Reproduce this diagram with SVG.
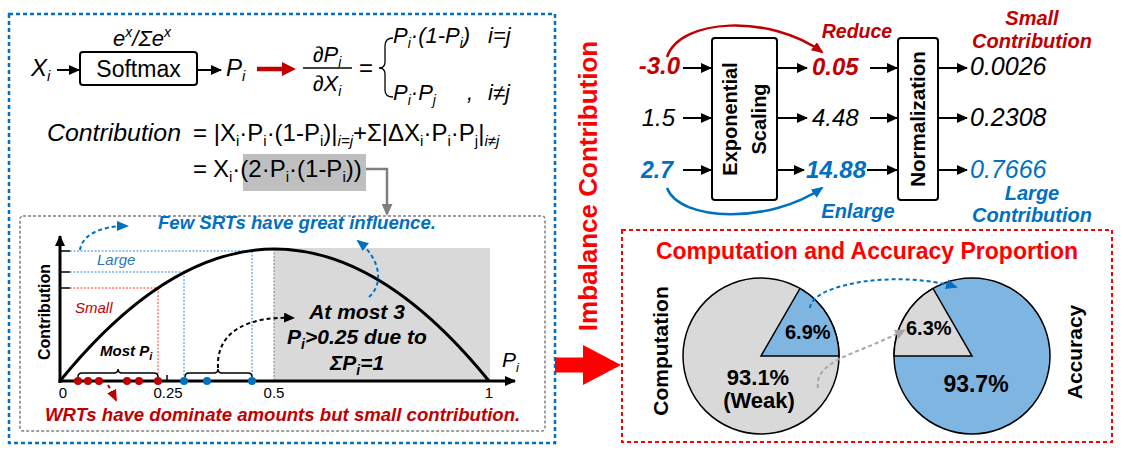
<svg xmlns="http://www.w3.org/2000/svg" width="1143" height="453" viewBox="0 0 1143 453">
<style>
text{font-family:"Liberation Sans",Arial,sans-serif}
.i{font-style:italic}
.b{font-weight:bold}
.bi{font-weight:bold;font-style:italic}
.m{text-anchor:middle}
.e{text-anchor:end}
.ln{stroke:#000;stroke-width:2;fill:none}
.dash{fill:none;stroke-width:2;stroke-dasharray:4 3}
</style>
<defs>
<marker id="ab" markerUnits="userSpaceOnUse" markerWidth="11" markerHeight="10" refX="10" refY="5" orient="auto" viewBox="0 0 11 10"><path d="M0,0 L11,5 L0,10 z" fill="#000"/></marker>
<marker id="ag" markerUnits="userSpaceOnUse" markerWidth="12" markerHeight="11" refX="10" refY="5.5" orient="auto" viewBox="0 0 12 11"><path d="M0,0 L12,5.5 L0,11 z" fill="#7f7f7f"/></marker>
<marker id="alg" markerUnits="userSpaceOnUse" markerWidth="11" markerHeight="10" refX="10" refY="5" orient="auto" viewBox="0 0 11 10"><path d="M0,0 L11,5 L0,10 z" fill="#a6a6a6"/></marker>
<marker id="abl" markerUnits="userSpaceOnUse" markerWidth="12" markerHeight="10" refX="10" refY="5" orient="auto" viewBox="0 0 12 10"><path d="M0,0 L12,5 L0,10 z" fill="#0070c0"/></marker>
<marker id="ar" markerUnits="userSpaceOnUse" markerWidth="12" markerHeight="10" refX="10" refY="5" orient="auto" viewBox="0 0 12 10"><path d="M0,0 L12,5 L0,10 z" fill="#c00000"/></marker>
</defs>
<rect width="1143" height="453" fill="#fff"/>

<!-- frames -->
<g id="frames">
<rect x="9" y="14" width="546" height="429" fill="none" stroke="#0070c0" stroke-width="2.5" stroke-dasharray="4 3"/>
<rect x="20" y="216" width="525" height="215" fill="none" stroke="#7f7f7f" stroke-width="1.5" stroke-dasharray="3 2" rx="3"/>
<rect x="622" y="230" width="490" height="212" fill="none" stroke="#ff0000" stroke-width="2" stroke-dasharray="4 3"/>
</g>

<!-- top-left softmax formula -->
<g id="softmax">
<text x="31" y="76" class="i" font-size="24">X<tspan font-size="15" dy="5">i</tspan></text>
<rect x="80" y="52" width="117" height="33" rx="3" fill="#fff" stroke="#000" stroke-width="2"/>
<text x="138.5" y="77" class="m" font-size="23">Softmax</text>
<text x="142" y="46" class="i m" font-size="22">e<tspan font-size="14" dy="-9">x</tspan><tspan dy="9">/Σe</tspan><tspan font-size="14" dy="-9">x</tspan></text>
<text x="226" y="76" class="i" font-size="24">P<tspan font-size="15" dy="5">i</tspan></text>
</g>

<g id="derivative">
<text x="327" y="62" class="i m" font-size="22">∂P<tspan font-size="14" dy="5">i</tspan></text>
<line x1="303" y1="68" x2="352" y2="68" stroke="#000" stroke-width="1.5"/>
<text x="327" y="91" class="i m" font-size="22">∂X<tspan font-size="14" dy="5">i</tspan></text>
<text x="366" y="76" class="m" font-size="24">=</text>
<path d="M393,38 Q385,38 385,46 L385,62 Q385,68 379,68 Q385,68 385,74 L385,90 Q385,97 393,97" fill="none" stroke="#000" stroke-width="1.3"/>
<text x="393" y="43" class="i" font-size="22">P<tspan font-size="14" dy="5">i</tspan><tspan dy="-5">·(1-P</tspan><tspan font-size="14" dy="5">i</tspan><tspan dy="-5">)</tspan></text>
<text x="488" y="43" class="i" font-size="22">i=j</text>
<text x="393" y="100" class="i" font-size="22">P<tspan font-size="14" dy="5">i</tspan><tspan dy="-5">·P</tspan><tspan font-size="14" dy="5">j</tspan></text>
<text x="467" y="100" class="i" font-size="22">,</text>
<text x="488" y="100" class="i" font-size="22">i≠j</text>
</g>

<g id="contribution-eq">
<text x="47" y="141" class="i" font-size="24" textLength="134" lengthAdjust="spacingAndGlyphs">Contribution</text>
<text x="193" y="141" font-size="24">= |X<tspan font-size="15" dy="5">i</tspan><tspan dy="-5">·P</tspan><tspan font-size="15" dy="5">i</tspan><tspan dy="-5">·(1-P</tspan><tspan font-size="15" dy="5">i</tspan><tspan dy="-5">)|</tspan><tspan font-size="15" dy="5" font-style="italic">i=j</tspan><tspan dy="-5">+Σ|ΔX</tspan><tspan font-size="15" dy="5">i</tspan><tspan dy="-5">·P</tspan><tspan font-size="15" dy="5">i</tspan><tspan dy="-5">·P</tspan><tspan font-size="15" dy="5">j</tspan><tspan dy="-5">|</tspan><tspan font-size="15" dy="5" font-style="italic">i≠j</tspan></text>
<rect x="243" y="154" width="123" height="37" fill="#bfbfbf"/>
<text x="193" y="177" font-size="24">=</text>
<text x="213" y="177" font-size="24">X<tspan font-size="15" dy="5">i</tspan><tspan dy="-5">·(2·P</tspan><tspan font-size="15" dy="5">i</tspan><tspan dy="-5">·(1-P</tspan><tspan font-size="15" dy="5">i</tspan><tspan dy="-5">))</tspan></text>
</g>

<!-- chart -->
<g id="chart">
<rect x="274" y="248" width="216" height="133" fill="#d9d9d9"/>
<g stroke-width="1" stroke-dasharray="2 1.5" fill="none">
<path d="M70,251 H252 M70,272 H184 M252,251 V381 M184,272 V381" stroke="#2e8bdc"/>
<path d="M70,288 H158 M158,288 V381" stroke="#ff3030"/>
<path d="M274,249 V381" stroke="#7f7f7f"/>
</g>
<path d="M60,251 H70 M60,272 H70 M60,288 H70" stroke="#000" stroke-width="1.5"/>
<path d="M60,381 Q274.5,117 489,381" fill="none" stroke="#000" stroke-width="3"/>
<line x1="60" y1="383" x2="60" y2="236" stroke="#000" stroke-width="3" marker-end="url(#ab)"/>
<line x1="58.5" y1="381" x2="515" y2="381" stroke="#000" stroke-width="3" marker-end="url(#ab)"/>
<line x1="167" y1="375" x2="167" y2="381" stroke="#000" stroke-width="1.5"/>
<path d="M78,377 Q78,373 82,373 L114,373 Q118,373 118,369 Q118,373 122,373 L154,373 Q158,373 158,377" fill="none" stroke="#000" stroke-width="1.5"/>
<path d="M185,377 Q185,373 189,373 L214,373 Q218,373 218,369 Q218,373 222,373 L248,373 Q252,373 252,377" fill="none" stroke="#000" stroke-width="1.5"/>
<g fill="#c00000"><circle cx="78" cy="381" r="4"/><circle cx="88" cy="381" r="4"/><circle cx="99" cy="381" r="4"/><circle cx="127" cy="381" r="4"/><circle cx="139" cy="381" r="4"/><circle cx="158" cy="381" r="4"/></g>
<g fill="#0070c0"><circle cx="184" cy="381" r="4"/><circle cx="207" cy="381" r="4"/><circle cx="252" cy="381" r="4"/></g>
<text transform="translate(50,312) rotate(-90)" class="b m" font-size="16">Contribution</text>
<text x="97" y="265" class="i" font-size="15" fill="#2e75b6">Large</text>
<text x="75" y="313" class="i" font-size="15" fill="#c00000">Small</text>
<text x="100" y="356" class="bi" font-size="15">Most P<tspan font-size="11" dy="4">i</tspan></text>
<text x="63" y="398" class="m" font-size="15">0</text>
<text x="168" y="398" class="m" font-size="15">0.25</text>
<text x="274" y="398" class="m" font-size="15">0.5</text>
<text x="489" y="398" class="m" font-size="15">1</text>
<text x="502" y="367" class="i" font-size="21">P<tspan font-size="13" dy="5">i</tspan></text>
<text x="158" y="229" class="bi" font-size="18.6" fill="#0070c0">Few SRTs have great influence.</text>
<text x="45" y="421" class="bi" font-size="18.6" fill="#c00000">WRTs have dominate amounts but small contribution.</text>
<text x="357" y="319" class="bi m" font-size="21">At most 3</text>
<text x="357" y="344" class="bi m" font-size="21">P<tspan font-size="14" dy="5">i</tspan><tspan dy="-5">&gt;0.25 due to</tspan></text>
<text x="357" y="370" class="bi m" font-size="21">ΣP<tspan font-size="14" dy="5">i</tspan><tspan dy="-5">=1</tspan></text>
</g>

<!-- middle label and big arrow -->
<g id="imbalance">
<text transform="translate(587,186) rotate(-90)" y="10" class="b m" font-size="26" fill="#ff0000">Imbalance Contribution</text>
<polygon points="555,357.5 583,357.5 583,345 621,365 583,385 583,372.5 555,372.5" fill="#ff0000"/>
</g>

<!-- top-right pipeline -->
<g id="inputs">
<text x="680" y="74" class="bi e" font-size="24" fill="#c00000">-3.0</text>
<text x="675" y="126" class="i e" font-size="24">1.5</text>
<text x="673" y="178" class="bi e" font-size="23" fill="#0070c0">2.7</text>
</g>
<g id="exp-scaling">
<rect x="712" y="38" width="65" height="162" rx="3" fill="#fff" stroke="#000" stroke-width="2"/>
<text transform="translate(745,119) rotate(-90)" class="b m" font-size="20"><tspan x="0" y="-8">Exponential</tspan><tspan x="0" y="21">Scaling</tspan></text>
</g>
<g id="scaled">
<text x="812" y="75" class="bi" font-size="24" fill="#c00000">0.05</text>
<text x="812" y="126" class="i" font-size="24">4.48</text>
<text x="806" y="178" class="bi" font-size="24" fill="#0070c0">14.88</text>
</g>
<g id="normalization">
<rect x="898" y="38" width="40" height="162" rx="3" fill="#fff" stroke="#000" stroke-width="2"/>
<text transform="translate(918,119) rotate(-90)" y="7" class="b m" font-size="20.5">Normalization</text>
</g>
<g id="outputs">
<text x="970" y="75" class="i" font-size="25">0.0026</text>
<text x="970" y="126" class="i" font-size="25">0.2308</text>
<text x="970" y="178" class="i" font-size="25" fill="#0070c0">0.7666</text>
<text x="857" y="38" class="bi m" font-size="19.5" fill="#c00000">Reduce</text>
<text x="1032" y="25" class="bi m" font-size="20" fill="#c00000">Small</text>
<text x="1032" y="48" class="bi m" font-size="20" fill="#c00000">Contribution</text>
<text x="858" y="218" class="bi m" font-size="20" fill="#0070c0">Enlarge</text>
<text x="1032" y="200" class="bi m" font-size="20" fill="#0070c0">Large</text>
<text x="1032" y="222" class="bi m" font-size="20" fill="#0070c0">Contribution</text>
</g>

<!-- pies -->
<g id="proportion">
<text x="867" y="259" class="b m" font-size="23" fill="#ff0000">Computation and Accuracy Proportion</text>
<text transform="translate(668,351) rotate(-90)" class="b m" font-size="21">Computation</text>
<text transform="translate(1082,352) rotate(-90)" class="b m" font-size="21">Accuracy</text>
</g>
<g id="pie-computation">
<circle cx="761" cy="356" r="78" fill="#d9d9d9" stroke="#000" stroke-width="1.5"/>
<path d="M761,356 L839,356 A78,78 0 0,0 800,288.45 Z" fill="#7fb6e1" stroke="#000" stroke-width="1.5"/>
<text x="785" y="339" class="b" font-size="20">6.9%</text>
<text x="758" y="385" class="b m" font-size="22">93.1%</text>
<text x="759" y="408" class="b m" font-size="22">(Weak)</text>
</g>
<g id="pie-accuracy">
<circle cx="972" cy="356" r="78" fill="#7fb6e1" stroke="#000" stroke-width="1.5"/>
<path d="M972,356 L894,356 A78,78 0 0,1 933,288.45 Z" fill="#d9d9d9" stroke="#000" stroke-width="1.5"/>
<text x="906" y="335" class="b" font-size="20">6.3%</text>
<text x="976" y="392" class="b m" font-size="23">93.7%</text>
</g>

<!-- connectors -->
<g id="connectors">
<line x1="57" y1="70" x2="79" y2="70" class="ln" marker-end="url(#ab)"/>
<line x1="197" y1="70" x2="221" y2="70" class="ln" marker-end="url(#ab)"/>
<line x1="257" y1="69" x2="284" y2="69" stroke="#c00000" stroke-width="4.5"/>
<polygon points="282,62 296,69 282,76" fill="#c00000"/>
<path d="M366,169 H387 V214" fill="none" stroke="#7f7f7f" stroke-width="2.5" marker-end="url(#ag)"/>
<path d="M80,250 C82,235 100,226 127,226" class="dash" stroke="#0070c0" marker-end="url(#abl)"/>
<path d="M369,297 C383,285 382,260 358,241" class="dash" stroke="#0070c0" marker-end="url(#abl)"/>
<path d="M218,368 C216,330 250,316 294,318" class="dash" stroke="#000" marker-end="url(#ab)"/>
<path d="M108,385 Q112,392 116,400" class="dash" stroke="#c00000" marker-end="url(#ar)"/>
<line x1="683" y1="68" x2="711" y2="68" class="ln" marker-end="url(#ab)"/>
<line x1="683" y1="118" x2="711" y2="118" class="ln" marker-end="url(#ab)"/>
<line x1="683" y1="170" x2="711" y2="170" class="ln" marker-end="url(#ab)"/>
<line x1="777" y1="68" x2="807" y2="68" class="ln" marker-end="url(#ab)"/>
<line x1="777" y1="118" x2="807" y2="118" class="ln" marker-end="url(#ab)"/>
<line x1="777" y1="170" x2="804" y2="170" class="ln" marker-end="url(#ab)"/>
<line x1="870" y1="68" x2="897" y2="68" class="ln" marker-end="url(#ab)"/>
<line x1="870" y1="118" x2="897" y2="118" class="ln" marker-end="url(#ab)"/>
<line x1="867" y1="170" x2="897" y2="170" class="ln" marker-end="url(#ab)"/>
<line x1="938" y1="68" x2="967" y2="68" class="ln" marker-end="url(#ab)"/>
<line x1="938" y1="118" x2="967" y2="118" class="ln" marker-end="url(#ab)"/>
<line x1="938" y1="170" x2="967" y2="170" class="ln" marker-end="url(#ab)"/>
<path d="M667,57 C680,18 770,14 822,52" fill="none" stroke="#c00000" stroke-width="2.5" marker-end="url(#ar)"/>
<path d="M667,188 C680,222 770,224 822,188" fill="none" stroke="#0070c0" stroke-width="2.5" marker-end="url(#abl)"/>
<path d="M810,308 C812,283 900,270 956,287" class="dash" stroke="#0070c0" marker-end="url(#abl)"/>
<path d="M818,388 C815,370 835,360 855,352 C875,344 893,336 905,330" class="dash" stroke="#a6a6a6" marker-end="url(#alg)"/>
</g>
</svg>
